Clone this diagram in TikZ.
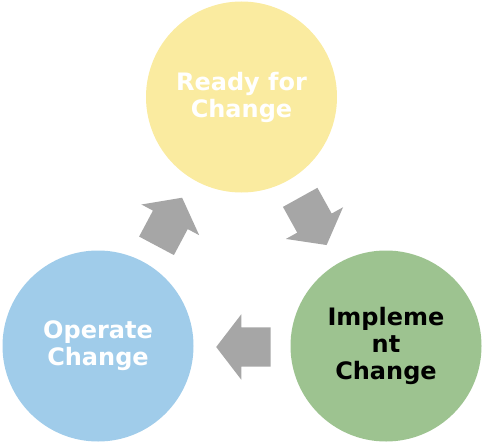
\documentclass[tikz,border=0pt]{standalone}
\usepackage{fontspec}
\setmainfont{DejaVu Sans}
\usepackage{tikz}
\usetikzlibrary{shapes.arrows,positioning,calc}
\definecolor{readyyellow}{RGB}{250,235,160}
\definecolor{operblue}{RGB}{160,204,234}
\definecolor{implgreen}{RGB}{157,195,144}
\definecolor{arrowgray}{RGB}{166,166,166}
\tikzset{
    phase/.style={circle, draw=none, minimum size=191pt, inner sep=0pt, align=center,
        font=\fontsize{24}{27}\selectfont\bfseries},
    blockarrow/.style={single arrow, fill=arrowgray, draw=none, inner sep=19.5pt,
        minimum height=52pt, single arrow head extend=13pt, single arrow tip angle=105}
}
\begin{document}
\begin{tikzpicture}[x=1pt,y=-1pt]
    \useasboundingbox (0,0) rectangle (484,444);
    % --- Phases ---
    \node[phase, fill=readyyellow, text=white] (ready) at (241.5,97) {Ready for\\Change};
    \node[phase, fill=implgreen, text=black] (impl) at (386,346) {Impleme\\nt\\Change};
    \node[phase, fill=operblue, text=white] (oper) at (98,346) {Operate\\Change};
    % --- Block arrows between phases ---
    \node[blockarrow, rotate=-61] (a1) at ($(ready)!0.5!(impl)!8pt!(ready)$) {};
    \node[blockarrow, rotate=180] (a2) at ($(impl)!0.5!(oper)!-9pt!(oper)+(0,1)$) {};
    \node[blockarrow, rotate=62] (a3) at ($(oper)!0.5!(ready)!8pt!(oper)$) {};
\end{tikzpicture}
\end{document}
